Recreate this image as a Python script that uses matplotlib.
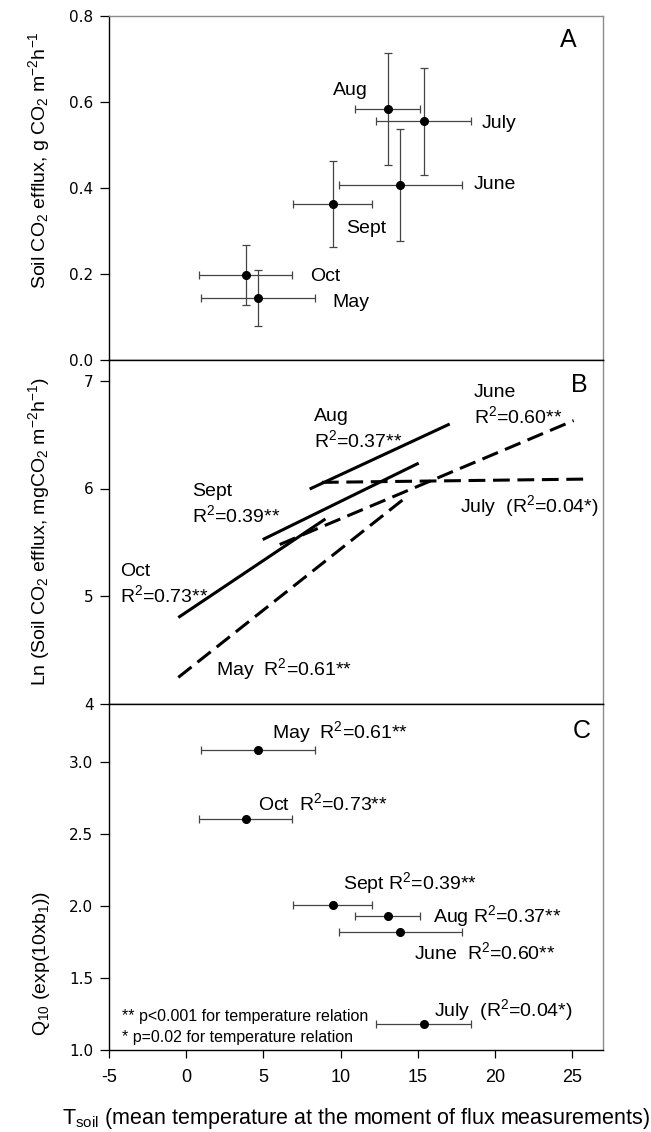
import matplotlib
matplotlib.use("Agg")
import matplotlib.pyplot as plt

plt.rcParams['font.family'] = ['Liberation Sans', 'DejaVu Sans']
plt.rcParams['mathtext.fontset'] = 'custom'
plt.rcParams['mathtext.rm'] = 'Liberation Sans'
plt.rcParams['mathtext.it'] = 'Liberation Sans:italic'
plt.rcParams['mathtext.bf'] = 'Liberation Sans:bold'
plt.rcParams['axes.unicode_minus'] = False

# panel A: mean soil temperature vs mean CO2 efflux per month
months = ['May', 'June', 'July', 'Aug', 'Sept', 'Oct']
t_mean = [4.64, 13.88, 15.38, 13.06, 9.48, 3.85]
t_err = [3.7, 4.0, 3.07, 2.1, 2.57, 3.0]
flux = [0.142, 0.406, 0.554, 0.583, 0.361, 0.197]
flux_err = [0.065, 0.13, 0.124, 0.13, 0.10, 0.07]

# panel B: regression lines (start / end)
line_x0 = [-0.51, 6.06, 8.79, 8.0, 4.96, -0.51]
line_x1 = [14.04, 25.1, 26.12, 17.07, 15.06, 9.02]
line_y0 = [4.243, 5.479, 6.057, 5.995, 5.525, 4.80]
line_y1 = [5.896, 6.632, 6.088, 6.60, 6.236, 5.717]
dashed = [True, True, True, False, False, False]

# panel C: Q10 per month
q10 = [3.09, 1.82, 1.18, 1.935, 2.01, 2.61]
r2_text = ['R$^2$=0.61**', 'R$^2$=0.60**', '(R$^2$=0.04*)',
           'R$^2$=0.37**', 'R$^2$=0.39**', 'R$^2$=0.73**']

fig = plt.figure(figsize=(6.51, 11.32), dpi=100)
L, R = 109 / 651, 603 / 651
H = 1132
axA = fig.add_axes([L, 1 - 359.5 / H, R - L, 344 / H])
axB = fig.add_axes([L, 1 - 703.5 / H, R - L, 344 / H])
axC = fig.add_axes([L, 1 - 1050 / H, R - L, 346.5 / H])

grey = '#8a8a8a'
ebc = '#444444'
lab_fs = 14

for ax in (axA, axB, axC):
    ax.set_xlim(-5, 27)
    for s in ('top', 'right'):
        ax.spines[s].set_color(grey)
    for s in ('left', 'bottom'):
        ax.spines[s].set_color('black')
    for s in ax.spines.values():
        s.set_linewidth(1.0)
    ax.tick_params(axis='y', direction='out', length=6.2, width=0.9, pad=5,
                   labelsize=11)
# the shared borders between panels are dark
axB.spines['top'].set_color('black')
axC.spines['top'].set_color('black')

# ---- A
axA.set_ylim(0, 0.8)
axA.set_yticks([0, 0.2, 0.4, 0.6, 0.8])
axA.set_yticklabels(['0.0', '0.2', '0.4', '0.6', '0.8'], family='DejaVu Sans')
axA.tick_params(axis='x', bottom=False, labelbottom=False)
axA.errorbar(t_mean, flux, xerr=t_err, yerr=flux_err, fmt='o', color='black',
             ms=5.5, ecolor=ebc, elinewidth=0.9, capsize=3.2, capthick=0.9)
a_pos = {'May': (9.48, 0.132), 'June': (18.6, 0.406), 'July': (19.17, 0.548),
         'Aug': (9.48, 0.626), 'Sept': (10.34, 0.305), 'Oct': (8.02, 0.192)}
for m in months:
    axA.text(*a_pos[m], m, fontsize=lab_fs, ha='left', va='center')
axA.text(25.3, 0.742, 'A', fontsize=18, ha='right', va='center')
axA.set_ylabel('Soil CO$_2$ efflux, g CO$_2$ m$^{-2}$h$^{-1}$', fontsize=14)
axA.yaxis.set_label_coords(-0.115, 0.58)

# ---- B
axB.set_ylim(4, 7.2)
axB.set_yticks([4, 5, 6, 7])
axB.set_yticklabels(['4', '5', '6', '7'], family='DejaVu Sans')
axB.tick_params(axis='x', bottom=False, labelbottom=False)
for i in range(len(months)):
    if dashed[i]:
        axB.plot([line_x0[i], line_x1[i]], [line_y0[i], line_y1[i]],
                 color='black', lw=2.2, dashes=(5.5, 2.5))
    else:
        axB.plot([line_x0[i], line_x1[i]], [line_y0[i], line_y1[i]],
                 color='black', lw=2.2, solid_capstyle='butt')
b_pos = {'June': (18.64, 6.89), 'Aug': (8.29, 6.67), 'Sept': (0.40, 5.97),
         'Oct': (-4.27, 5.23)}
for m in ['June', 'Aug', 'Sept', 'Oct']:
    x, y = b_pos[m]
    axB.text(x, y, m, fontsize=lab_fs, ha='left', va='center')
    axB.text(x, y - 0.22, r2_text[months.index(m)], fontsize=lab_fs,
             ha='left', va='center')
axB.text(17.73, 5.84, 'July  ' + r2_text[2], fontsize=lab_fs, ha='left', va='center')
axB.text(1.91, 4.32, 'May  ' + r2_text[0], fontsize=lab_fs, ha='left', va='center')
axB.text(26.0, 6.963, 'B', fontsize=18, ha='right', va='center')
axB.set_ylabel('Ln (Soil CO$_2$ efflux, mgCO$_2$ m$^{-2}$h$^{-1}$)', fontsize=14)
axB.yaxis.set_label_coords(-0.115, 0.5)

# ---- C
axC.set_ylim(1.0, 3.41)
axC.set_yticks([1.0, 1.5, 2.0, 2.5, 3.0])
axC.set_yticklabels(['1.0', '1.5', '2.0', '2.5', '3.0'], family='DejaVu Sans')
axC.set_xticks([-5, 0, 5, 10, 15, 20, 25])
axC.tick_params(axis='x', direction='out', length=6, width=0.9, pad=8,
                labelsize=13)
axC.errorbar(t_mean, q10, xerr=t_err, fmt='o', color='black', ms=5.5,
             ecolor=ebc, elinewidth=0.9, capsize=3.2, capthick=0.9)
c_pos = {'May': (5.53, 3.21, 'May  '), 'Oct': (4.62, 2.72, 'Oct  '),
         'Sept': (10.16, 2.16, 'Sept '), 'Aug': (15.98, 1.93, 'Aug '),
         'June': (14.77, 1.68, 'June  '), 'July': (16.05, 1.28, 'July  ')}
for m in months:
    x, y, pre = c_pos[m]
    axC.text(x, y, pre + r2_text[months.index(m)], fontsize=lab_fs,
             ha='left', va='center')
axC.text(-4.13, 1.23, '** p<0.001 for temperature relation', fontsize=11.5,
         ha='left', va='center')
axC.text(-4.13, 1.09, '* p=0.02 for temperature relation', fontsize=11.5,
         ha='left', va='center')
axC.text(26.2, 3.22, 'C', fontsize=18, ha='right', va='center')
axC.set_ylabel('Q$_{10}$ (exp(10xb$_1$))', fontsize=14)
axC.yaxis.set_label_coords(-0.115, 0.25)
axC.set_xlabel(r'T$_{\mathrm{soil}}$ (mean temperature at the moment of flux measurements)',
               fontsize=15.5, labelpad=14)

fig.savefig('out.png', dpi=100)
